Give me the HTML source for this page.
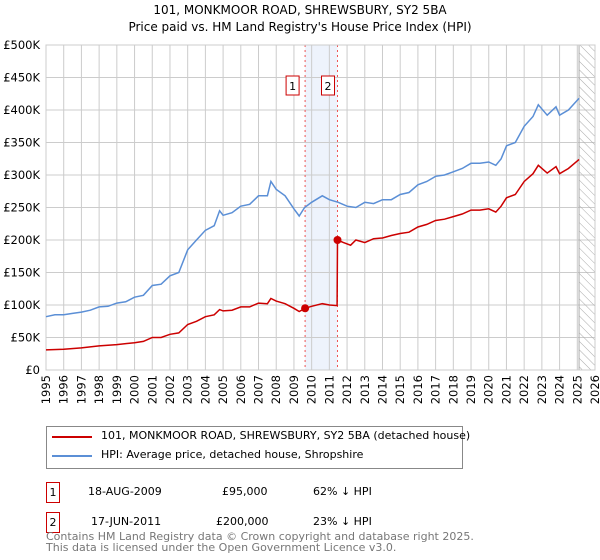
<!DOCTYPE html>
<html><head><meta charset="utf-8"><style>
body{margin:0;background:#fff;font-family:"DejaVu Sans","Liberation Sans",sans-serif;}
#wrap{position:relative;width:600px;height:560px;overflow:hidden;}
.t{position:absolute;font-size:11px;color:#000;white-space:nowrap;}
</style></head><body>
<div id="wrap">
<div class="t" style="left:0;width:600px;text-align:center;top:3px;font-size:12px">101, MONKMOOR ROAD, SHREWSBURY, SY2 5BA</div>
<div class="t" style="left:0;width:600px;text-align:center;top:20px;font-size:12px">Price paid vs. HM Land Registry's House Price Index (HPI)</div>
<svg id="chart" width="600" height="420" style="position:absolute;left:0;top:0" font-family="DejaVu Sans, Liberation Sans, sans-serif"></svg>
<div style="position:absolute;left:46px;top:426px;width:417px;height:43px;border:1px solid #888;box-sizing:border-box">
 <div style="position:absolute;left:5px;top:9px;width:40px;height:2px;background:#cc0000"></div>
 <div class="t" style="left:54px;top:2px">101, MONKMOOR ROAD, SHREWSBURY, SY2 5BA (detached house)</div>
 <div style="position:absolute;left:5px;top:28px;width:40px;height:2px;background:#5b8fd6"></div>
 <div class="t" style="left:54px;top:21px">HPI: Average price, detached house, Shropshire</div>
</div>
<div style="position:absolute;left:46px;top:482px;width:14px;height:21px;border:1px solid #cc0000;box-sizing:border-box;font-size:11px;text-align:center;line-height:19px">1</div>
<div class="t" style="left:88px;top:485px">18-AUG-2009</div>
<div class="t" style="left:222px;top:485px">£95,000</div>
<div class="t" style="left:313px;top:485px">62% ↓ HPI</div>
<div style="position:absolute;left:46px;top:512px;width:14px;height:21px;border:1px solid #cc0000;box-sizing:border-box;font-size:11px;text-align:center;line-height:19px">2</div>
<div class="t" style="left:91px;top:515px">17-JUN-2011</div>
<div class="t" style="left:216px;top:515px">£200,000</div>
<div class="t" style="left:313px;top:515px">23% ↓ HPI</div>
<div class="t" style="left:46px;top:531px;font-size:11px;color:#777;line-height:11px">Contains HM Land Registry data © Crown copyright and database right 2025.<br>This data is licensed under the Open Government Licence v3.0.</div>
</div>
<script>
const hpiYears=[1995,1995.5,1996,1996.5,1997,1997.5,1998,1998.5,1999,1999.5,2000,2000.5,2001,2001.5,2002,2002.5,2003,2003.5,2004,2004.5,2004.8,2005,2005.5,2006,2006.5,2007,2007.5,2007.7,2008,2008.5,2009,2009.3,2009.6,2010,2010.6,2011,2011.5,2012,2012.5,2013,2013.5,2014,2014.5,2015,2015.5,2016,2016.5,2017,2017.5,2018,2018.5,2019,2019.5,2020,2020.4,2020.7,2021,2021.5,2022,2022.5,2022.8,2023.3,2023.8,2024,2024.5,2025.1];
const hpiValues=[82,85,85,87,89,92,97,98,103,105,112,115,130,132,145,150,185,200,215,222,245,238,242,252,255,268,268,290,278,268,248,237,250,258,268,262,258,252,250,258,256,262,262,270,273,285,290,298,300,305,310,318,318,320,315,325,345,350,375,390,408,392,405,392,400,418];
const redYears=[1995,1996,1997,1998,1999,2000,2000.5,2001,2001.5,2002,2002.5,2003,2003.5,2004,2004.5,2004.8,2005,2005.5,2006,2006.5,2007,2007.5,2007.7,2008,2008.5,2009,2009.3,2009.63,2010,2010.6,2011,2011.44,2011.46,2011.8,2012.2,2012.5,2013,2013.5,2014,2014.5,2015,2015.5,2016,2016.5,2017,2017.5,2018,2018.5,2019,2019.5,2020,2020.4,2020.7,2021,2021.5,2022,2022.5,2022.8,2023.3,2023.8,2024,2024.5,2025.1];
const redValues=[31,32,34,37,39,42,44,50,50,55,57,70,75,82,85,93,91,92,97,97,103,102,110,106,102,95,90,95,98,102,100,99,200,196,192,200,196,202,203,207,210,212,220,224,230,232,236,240,246,246,248,243,252,265,270,290,302,315,303,313,302,310,324];
const sales=[{n:"1",x:2009.63,v:95},{n:"2",x:2011.46,v:200}];
const yTicks=[0,50,100,150,200,250,300,350,400,450,500];
const yTickLabels=["£0","£50K","£100K","£150K","£200K","£250K","£300K","£350K","£400K","£450K","£500K"];
const xTicks=[1995,1996,1997,1998,1999,2000,2001,2002,2003,2004,2005,2006,2007,2008,2009,2010,2011,2012,2013,2014,2015,2016,2017,2018,2019,2020,2021,2022,2023,2024,2025,2026];

const L=46,R=595,T=45,B=370;
const X=v=>L+(v-1995)/(2026-1995)*(R-L);
const Y=v=>B-v/500*(B-T);
const svg=document.getElementById('chart');
const NS='http://www.w3.org/2000/svg';
function mk(tag,attrs){const e=document.createElementNS(NS,tag);for(const k in attrs)e.setAttribute(k,attrs[k]);svg.appendChild(e);return e;}
let band=mk('rect',{x:X(2009.63),y:T,width:X(2011.46)-X(2009.63),height:B-T,fill:'#eef3fc'});


xTicks.forEach(t=>{let l=mk('line',{x1:X(t),x2:X(t),y1:T,y2:B,stroke:'#ccc','stroke-width':1});


let tx=mk('text',{x:0,y:0,'font-size':11.5,transform:`translate(${X(t)+4},${B+5}) rotate(-90)`,'text-anchor':'end'});tx.textContent=t;

});
yTicks.forEach((t,i)=>{let l=mk('line',{x1:L,x2:R,y1:Y(t),y2:Y(t),stroke:'#ccc','stroke-width':1});


let tx=mk('text',{x:L-6,y:Y(t)+4,'font-size':11.5,'text-anchor':'end'});tx.textContent=yTickLabels[i];

});
const defs=mk('defs',{});
defs.innerHTML='<pattern id="h" width="6" height="6" patternUnits="userSpaceOnUse" patternTransform="rotate(-45)"><line x1="0" y1="0" x2="0" y2="6" stroke="#aaa" stroke-width="1"/></pattern>';
let hr=mk('rect',{x:X(2025.1),y:T,width:R-X(2025.1),height:B-T,fill:'url(#h)',stroke:'#aaa'});


sales.forEach(s=>{let l=mk('line',{x1:X(s.x),x2:X(s.x),y1:T,y2:B,stroke:'#e55','stroke-width':1,'stroke-dasharray':'2,3'});


let bx=mk('rect',{x:X(s.x)-(s.n==="1"?19:16),y:76,width:13,height:19,fill:'#fff',stroke:'#cc0000'});


let tx=mk('text',{x:+bx.getAttribute('x')+6.5,y:90,'font-size':11,'text-anchor':'middle'});tx.textContent=s.n;

});
let ax=mk('rect',{x:L,y:T,width:R-L,height:B-T,fill:'none',stroke:'#ccc'});


function pts(xs,vs){return xs.map((x,i)=>X(x).toFixed(1)+','+Y(vs[i]).toFixed(1)).join(' ');}
let hp=mk('polyline',{points:pts(hpiYears,hpiValues),fill:'none',stroke:'#5b8fd6','stroke-width':1.5});


let rp=mk('polyline',{points:pts(redYears,redValues),fill:'none',stroke:'#cc0000','stroke-width':1.5});


sales.forEach(s=>{let c=mk('circle',{cx:X(s.x),cy:Y(s.v),r:4,fill:'#cc0000'});

});
</script>
</body></html>
